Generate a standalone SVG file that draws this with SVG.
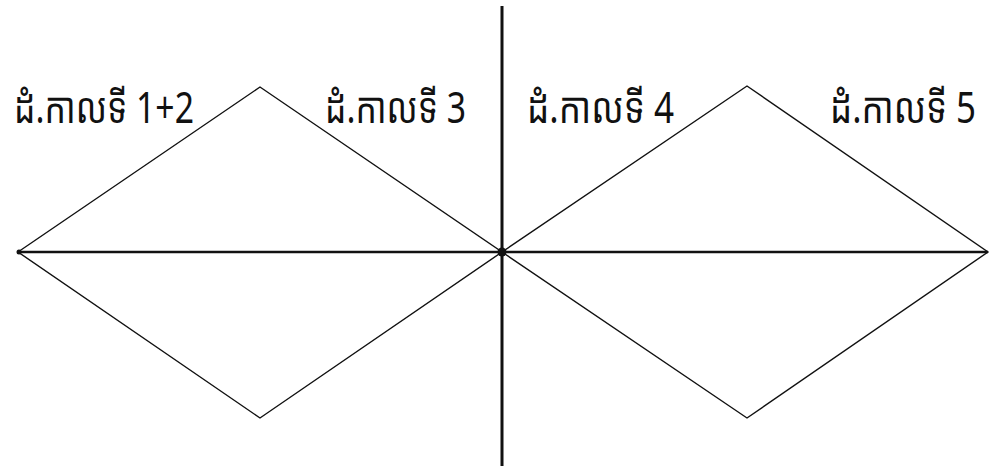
<svg xmlns="http://www.w3.org/2000/svg" width="991" height="470" viewBox="0 0 991 470">
<style>
.edge{stroke:#111;fill:none;stroke-width:1.4}
.axis{stroke:#111;fill:none}
.lbl{font-family:"Noto Sans Khmer","Khmer OS","Noto Sans","DejaVu Sans",sans-serif;font-size:43px;fill:#111}
</style>
<rect width="991" height="470" fill="#fff"/>
<g id="connectors">
<polygon class="edge" points="18,252 260,87 502,252 260,418"/>
<polygon class="edge" points="502,252 747,86 988,252 747,418"/>
<line class="axis" x1="18" y1="252" x2="988" y2="252" stroke-width="2.6"/>
<line class="axis" x1="502" y1="6" x2="502" y2="466" stroke-width="3"/>
</g>
<g id="center"><circle cx="502" cy="252" r="4.5" fill="#111"/></g>
<g id="end-left"><circle cx="19" cy="252" r="2.5" fill="#111"/></g>
<g id="label-1-2"><text class="lbl" x="14" y="123" textLength="180" lengthAdjust="spacingAndGlyphs">ដំ.កាលទី 1+2</text></g>
<g id="label-3"><text class="lbl" x="325" y="123" textLength="141" lengthAdjust="spacingAndGlyphs">ដំ.កាលទី 3</text></g>
<g id="label-4"><text class="lbl" x="527" y="123" textLength="147" lengthAdjust="spacingAndGlyphs">ដំ.កាលទី 4</text></g>
<g id="label-5"><text class="lbl" x="830" y="123" textLength="146" lengthAdjust="spacingAndGlyphs">ដំ.កាលទី 5</text></g>
</svg>
